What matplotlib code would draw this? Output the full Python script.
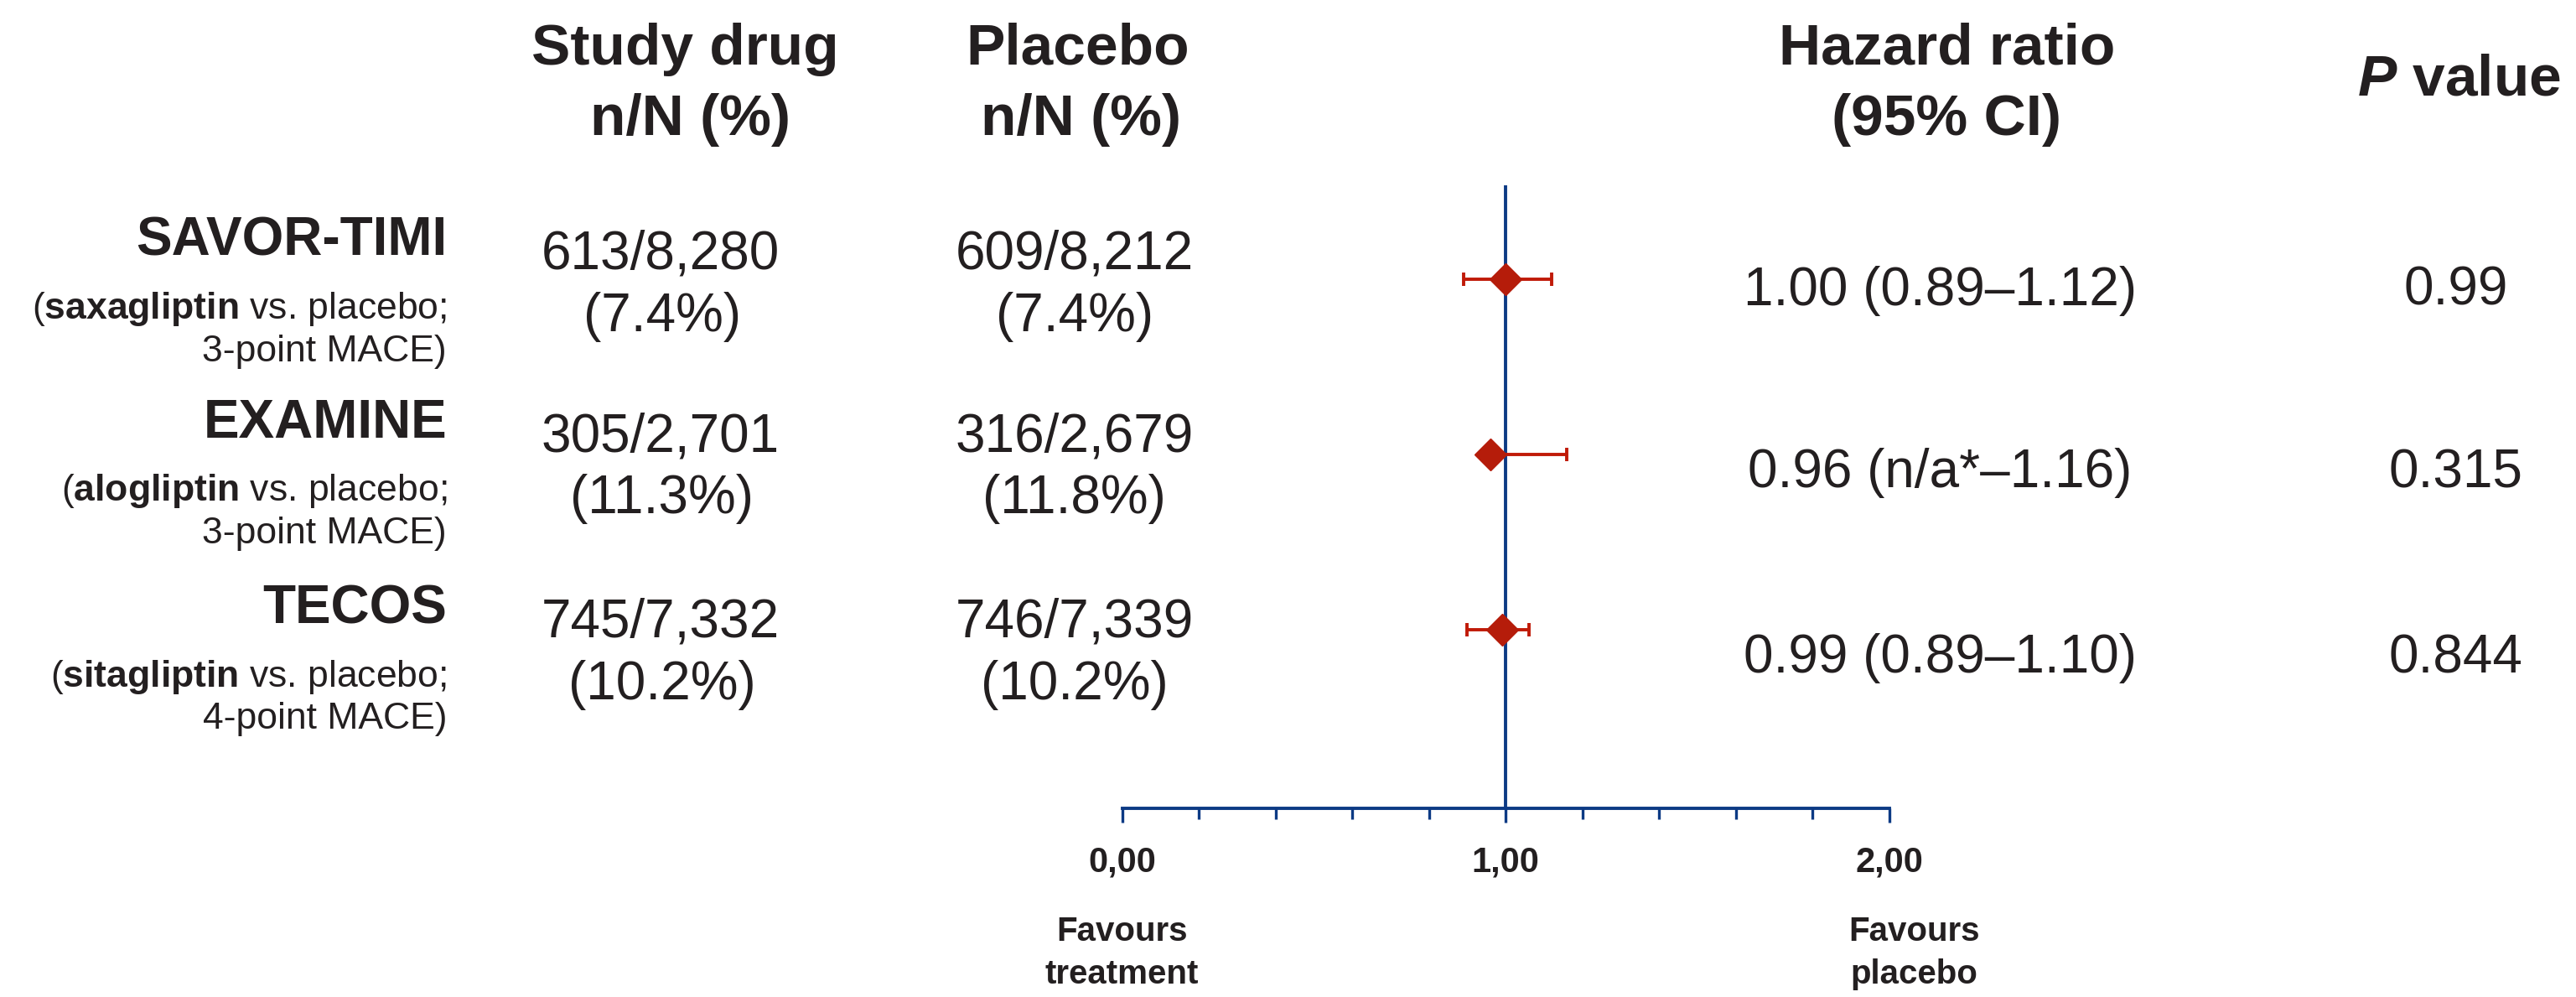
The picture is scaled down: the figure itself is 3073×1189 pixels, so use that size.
import numpy as np
import matplotlib
matplotlib.use("Agg")
import matplotlib.pyplot as plt
from matplotlib import font_manager

# pick a narrow Arial-like face if there is one
names = {f.name for f in font_manager.fontManager.ttflist}
FONT = "Liberation Sans Narrow" if "Liberation Sans Narrow" in names else "Liberation Sans"
plt.rcParams["font.family"] = [FONT, "DejaVu Sans"]
plt.rcParams["mathtext.fontset"] = "custom"
plt.rcParams["mathtext.rm"] = FONT
plt.rcParams["mathtext.bf"] = FONT + ":bold"
plt.rcParams["mathtext.it"] = FONT + ":bold:italic"

# data
trials = ["SAVOR-TIMI", "EXAMINE", "TECOS"]
drugs = ["saxagliptin", "alogliptin", "sitagliptin"]
endpoints = ["3-point MACE)", "3-point MACE)", "4-point MACE)"]
drug_counts = ["613/8,280", "305/2,701", "745/7,332"]
drug_pct = ["(7.4%)", "(11.3%)", "(10.2%)"]
placebo_counts = ["609/8,212", "316/2,679", "746/7,339"]
placebo_pct = ["(7.4%)", "(11.8%)", "(10.2%)"]
hr_text = ["1.00 (0.89\u20131.12)", "0.96 (n/a*\u20131.16)", "0.99 (0.89\u20131.10)"]
p_values = ["0.99", "0.315", "0.844"]
# plotted estimates, as drawn in the figure
hr = [1.00, 0.96, 0.99]
ci_lo = [0.89, np.nan, 0.90]
ci_hi = [1.12, 1.16, 1.06]

TXT = "#231f20"
NAVY = "#0c3a84"
RED = "#c01a08"
DARKRED = "#b51c0a"

fig = plt.figure(figsize=(30.73, 11.89), dpi=100)

# text layer, laid out in preview-pixel units
tx = fig.add_axes([0, 0, 1, 1])
tx.set_xlim(0, 1568)
tx.set_ylim(607, 0)
tx.axis("off")

# headers
hdr = dict(fontsize=50, fontweight="bold", color=TXT, ha="center", va="center")
tx.text(417, 30, "Study drug", **hdr)
tx.text(420, 73, "n/N (%)", **hdr)
tx.text(656, 30, "Placebo", **hdr)
tx.text(658, 73, "n/N (%)", **hdr)
tx.text(1185, 30, "Hazard ratio", **hdr)
tx.text(1185, 73, "(95% CI)", **hdr)
tx.text(1497, 49, r"$\mathit{P}$ value", **hdr)

row_y = [147, 258, 371]
for i, y in enumerate(row_y):
    tx.text(272, y, trials[i], fontsize=46, fontweight="bold", color=TXT,
            ha="right", va="center")
    tx.text(272, y + 41, "(" + r"$\mathbf{" + drugs[i] + "}$" + " vs. placebo;",
            fontsize=32, color=TXT, ha="right", va="center")
    tx.text(272, y + 67, endpoints[i], fontsize=32, color=TXT,
            ha="right", va="center")
    tx.text(402, y + 8, drug_counts[i], fontsize=46, color=TXT, ha="center", va="center")
    tx.text(403, y + 46, drug_pct[i], fontsize=46, color=TXT, ha="center", va="center")
    tx.text(654, y + 8, placebo_counts[i], fontsize=46, color=TXT, ha="center", va="center")
    tx.text(654, y + 46, placebo_pct[i], fontsize=46, color=TXT, ha="center", va="center")
    tx.text(1181, y + 30, hr_text[i], fontsize=46, color=TXT, ha="center", va="center")
    tx.text(1495, y + 30, p_values[i], fontsize=46, color=TXT, ha="center", va="center")

fav = dict(fontsize=29, fontweight="bold", color=TXT, ha="center", va="center")
tx.text(683, 567, "Favours", **fav)
tx.text(683, 593, "treatment", **fav)
tx.text(1165, 567, "Favours", **fav)
tx.text(1165, 593, "placebo", **fav)

# forest plot
ax = fig.add_axes([683 / 1568, (607 - 492) / 607, (1150 - 683) / 1568, (492 - 113) / 607])
ax.patch.set_alpha(0)
ypos = np.arange(1, len(hr) + 1)
ax.set_xlim(0, 2)
ax.set_ylim(4.02, 0.465)

ax.axvline(1, color=NAVY, lw=2.8, zorder=1)
for y, h, lo, hi in zip(ypos, hr, ci_lo, ci_hi):
    left = h if np.isnan(lo) else lo
    ax.hlines(y, left, hi, color=RED, lw=2.8, zorder=2)
    ends = [e for e in (lo, hi) if not np.isnan(e)]
    ax.plot(ends, [y] * len(ends), ls="none", marker="|", ms=12, mew=2.8,
            color=RED, zorder=2)
ax.plot(hr, ypos, ls="none", marker="D", ms=19, color=DARKRED, mec=DARKRED, zorder=3)

for side in ("top", "right", "left"):
    ax.spines[side].set_visible(False)
ax.spines["bottom"].set_color(NAVY)
ax.spines["bottom"].set_linewidth(2.8)
ax.set_yticks([])
ax.set_xticks([0, 1, 2])
ax.set_xticklabels(["0,00", "1,00", "2,00"], fontsize=30, fontweight="bold", color=TXT)
ax.set_xticks(np.arange(0.2, 2.0, 0.2), minor=True)
ax.tick_params(axis="x", which="major", direction="out", length=12, width=2.4,
               color=NAVY, pad=20)
ax.tick_params(axis="x", which="minor", direction="out", length=9, width=2.4,
               color=NAVY)

fig.savefig("out.png", dpi=100)
